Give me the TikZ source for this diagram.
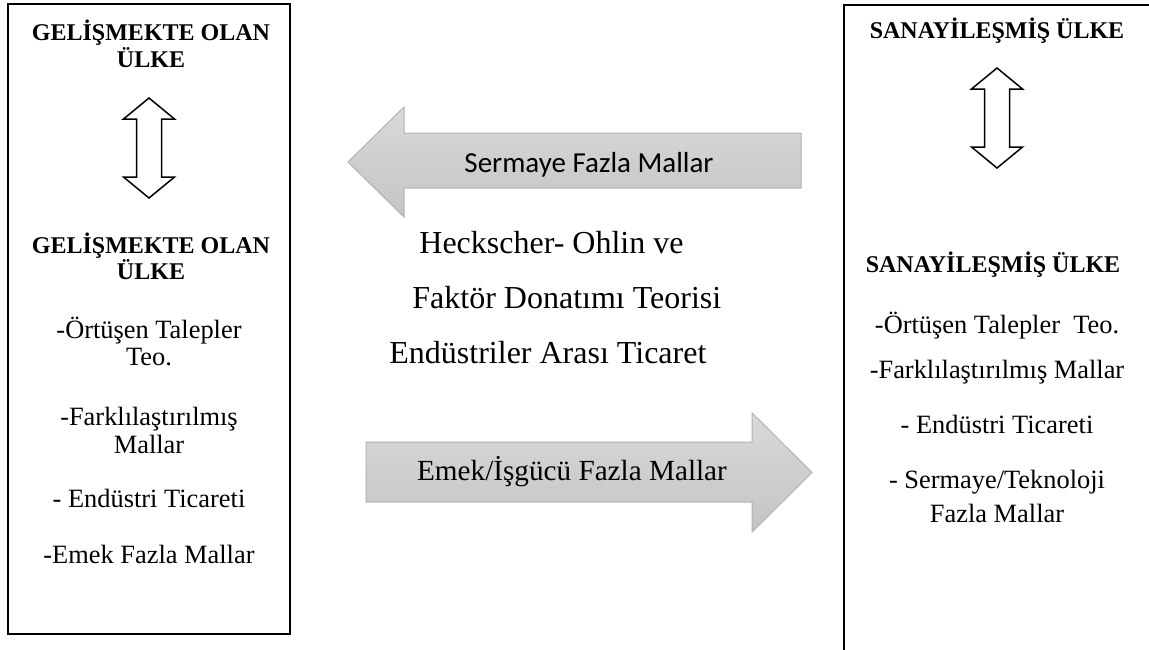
\documentclass[tikz,border=0pt]{standalone}
\usepackage{fontspec}
\setmainfont{Liberation Serif}
\newfontfamily\calibrifont{Carlito}
\tikzset{
  box/.style={draw=black,line width=1pt},
  bigarrow/.style={draw=gray!60,line width=0.5pt,top color=gray!30,bottom color=gray!46},
  title/.style={anchor=base,inner sep=0pt,font=\fontsize{12}{14}\selectfont\bfseries},
  item/.style={anchor=base,inner sep=0pt,font=\fontsize{13.2}{15}\selectfont},
  mid/.style={anchor=base west,inner sep=0pt,font=\fontsize{16}{19}\selectfont},
  updown/.pic={\draw[black,fill=white,line width=0.75pt,line join=miter]
    (0,0)--(25.5,21)--(12.5,21)--(12.5,79)--(25.5,79)--(0,100)
    --(-25.5,79)--(-12.5,79)--(-12.5,21)--(-25.5,21)--cycle;}
}
\begin{document}
\begin{tikzpicture}[x=0.5pt,y=-0.5pt]
\useasboundingbox (0,0) rectangle (1149,649);
\clip (0,0) rectangle (1149,649);
% left box
\draw[box] (8,4) rectangle (290,634);
\node[title] (gl1) at (151,40) {GELİŞMEKTE OLAN};
\node[title] (gl2) at (151,67) {ÜLKE};
\pic at (149,98) {updown};
\node[title] (gl3) at (151,253) {GELİŞMEKTE OLAN};
\node[title] (gl4) at (151,279) {ÜLKE};
\node[item] (ot1) at (149,338) {-Örtüşen Talepler};
\node[item] (ot2) at (149,365) {Teo.};
\node[item] (fm1) at (149,425) {-Farklılaştırılmış};
\node[item] (fm2) at (149,453) {Mallar};
\node[item] (et) at (149,507) {- Endüstri Ticareti};
\node[item] (ef) at (149,563) {-Emek Fazla Mallar};
% right box (runs off the page)
\draw[box] (1170,4.5)--(844,4.5)--(844,680);
\node[title] (su1) at (997,38) {SANAYİLEŞMİŞ ÜLKE};
\pic at (997,68) {updown};
\node[title] (su2) at (993,272) {SANAYİLEŞMİŞ ÜLKE};
\node[item] (sot) at (997,333) {-Örtüşen Talepler~~Teo.};
\node[item] (sfm) at (997,378) {-Farklılaştırılmış Mallar};
\node[item] (set) at (997,433) {- Endüstri Ticareti};
\node[item] (st1) at (997,488) {- Sermaye/Teknoloji};
\node[item] (st2) at (997,522) {Fazla Mallar};
% arrows in the middle
\draw[bigarrow] (348,162)--(404,107)--(404,133)--(801,133)--(801,188)--(404,188)--(404,217)--cycle;
\node[anchor=base,inner sep=0pt,font=\calibrifont\fontsize{14.5}{17}\selectfont] (sfl) at (589,172) {Sermaye Fazla Mallar};
\node[mid] (ho) at (419,253) {Heckscher- Ohlin ve};
\node[mid] (fd) at (412,308) {Faktör Donatımı Teorisi};
\node[mid] (ea) at (389,363) {Endüstriler Arası Ticaret};
\draw[bigarrow] (366,442)--(752,442)--(752,413)--(812,472.5)--(752,532)--(752,502)--(366,502)--cycle;
\node[anchor=base,inner sep=0pt,font=\fontsize{14.6}{17}\selectfont] (eif) at (572,480) {Emek/İşgücü Fazla Mallar};
\end{tikzpicture}
\end{document}
